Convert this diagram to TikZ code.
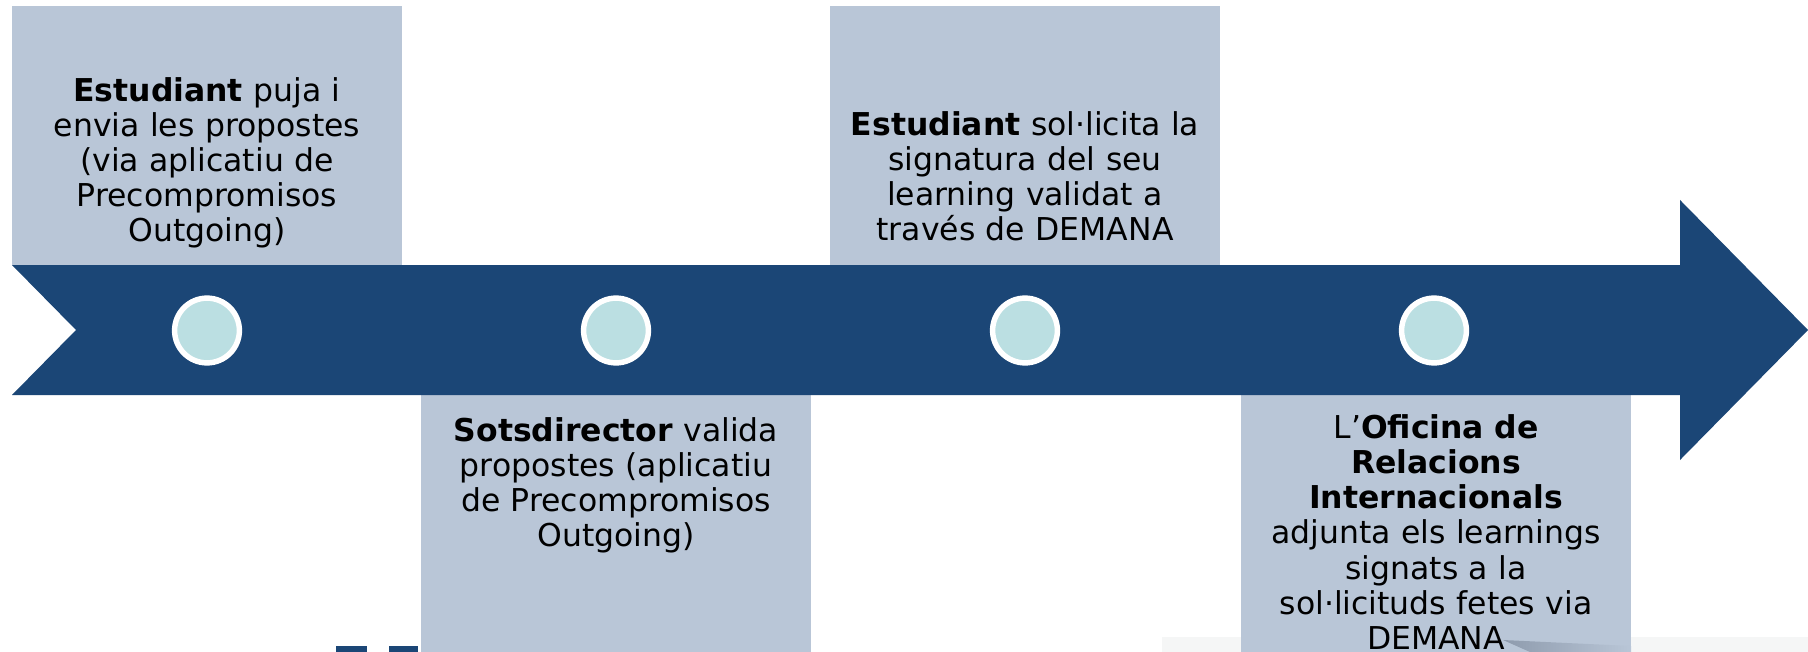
\documentclass[tikz,border=0pt]{standalone}
\usepackage{fontspec}
\setmainfont{DejaVu Sans}
\definecolor{boxblue}{HTML}{B9C6D7}
\definecolor{navy}{HTML}{1B4676}
\definecolor{mint}{HTML}{BBDFE2}
\definecolor{fadegray}{HTML}{F5F6F6}
\definecolor{shade}{HTML}{8E9BAD}
\tikzset{
  x=0.75pt,y=-0.75pt,
  panel/.style={fill=boxblue,draw=none},
  lab/.style={text width=288pt,align=center,inner sep=0pt,font=\fontsize{23.6pt}{26.3pt}\selectfont},
  dot/.style={circle,fill=mint,draw=white,line width=4.1pt,minimum size=48.6pt,inner sep=0pt},
  logo/.style={fill=navy,draw=none},
}
\begin{document}
\begin{tikzpicture}
\useasboundingbox (0,0) rectangle (1808,652);
\fill[white] (0,0) rectangle (1808,652);
% faded page remnants at the bottom
\fill[fadegray] (1162,637) rectangle (1808,652);
\fill[logo] (336,646) rectangle (367,652);
\fill[logo] (389,646) rectangle (418,652);
% panels
\fill[panel] (12,6) rectangle (402,265);
\fill[panel] (421,395) rectangle (811,652);
\fill[panel] (830,6) rectangle (1220,265);
\fill[panel] (1241,395) rectangle (1631,652);
\shade[left color=shade,right color=boxblue] (1503,640) -- (1631,646) -- (1631,652) -- (1530,652) -- cycle;
% arrow
\fill[navy] (12,265) -- (1680,265) -- (1680,200) -- (1808,330) -- (1680,460) -- (1680,395) -- (12,395) -- (76,330) -- cycle;
% circles
\node[dot] (c1) at (207,330.5) {};
\node[dot] (c2) at (616,330.5) {};
\node[dot] (c3) at (1025,330.5) {};
\node[dot] (c4) at (1434,330.5) {};
% labels
\node[lab] (t1) at (207,163) {\textbf{Estudiant} puja i\\envia les propostes\\(via aplicatiu de\\Precompromisos\\Outgoing)};
\node[lab] (t2) at (616,485) {\textbf{Sotsdirector} valida\\propostes (aplicatiu\\de Precompromisos\\Outgoing)};
\node[lab] (t3) at (1025,176) {\textbf{Estudiant} sol·licita la\\signatura del seu\\learning validat a\\través de DEMANA};
\node[lab] (t4) at (1436,532) {L’\textbf{Oficina de}\\\textbf{Relacions}\\\textbf{Internacionals}\\adjunta els learnings\\signats a la\\sol·licituds fetes via\\DEMANA};
\end{tikzpicture}
\end{document}
